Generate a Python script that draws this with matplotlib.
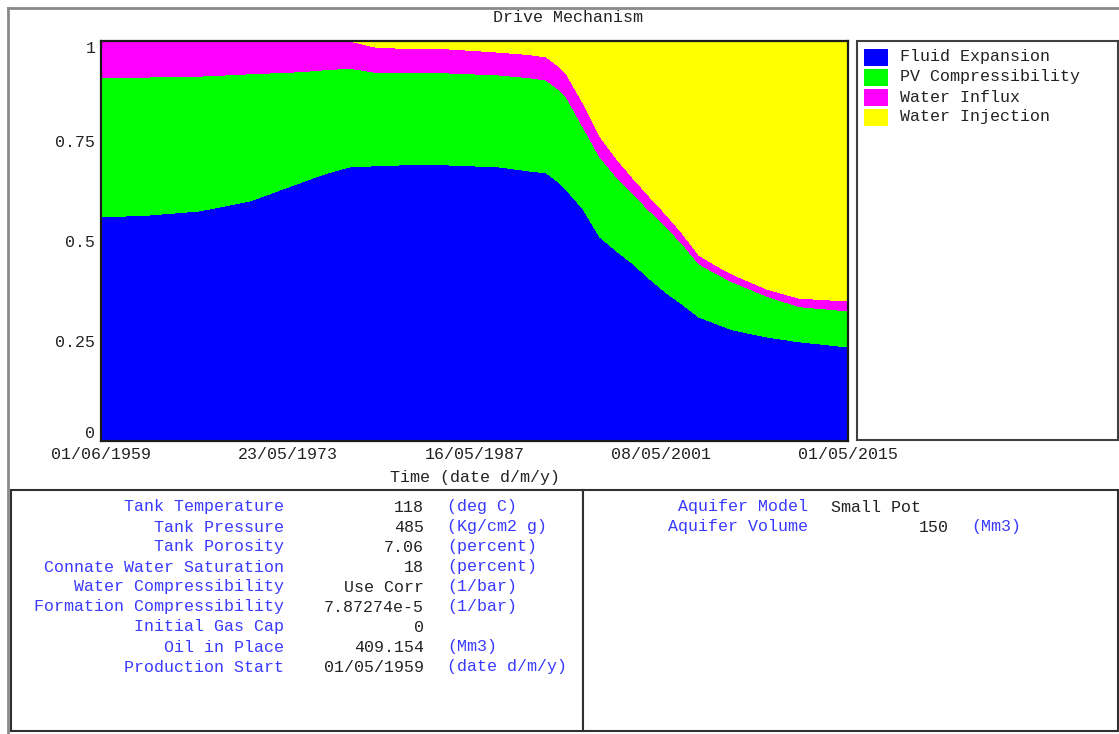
import matplotlib
matplotlib.use("Agg")
import matplotlib.pyplot as plt
from matplotlib.patches import Rectangle
from matplotlib.lines import Line2D
import pandas as pd

W, H = 1119, 734
FONT = "Liberation Mono"
BLUE_TXT = "#3a3aff"

# ---- drive mechanism fractions over time ----
dates = ["1959-06-01", "1963-02-01", "1966-10-01", "1970-08-01", "1974-04-01",
         "1976-03-01", "1978-01-01", "1979-12-01", "1981-10-01", "1985-07-01",
         "1989-04-01", "1991-07-01", "1992-10-01", "1993-10-01", "1994-04-01",
         "1995-07-01", "1996-10-01", "1998-01-01", "1999-03-01", "2000-07-01",
         "2001-10-01", "2003-01-01", "2004-03-01", "2005-07-01", "2006-09-01",
         "2009-04-01", "2011-09-01", "2015-05-01"]
fluid_expansion = [0.560, 0.565, 0.575, 0.600, 0.645, 0.668, 0.685, 0.688, 0.690, 0.690,
                   0.685, 0.675, 0.670, 0.645, 0.628, 0.580, 0.510, 0.475, 0.445, 0.405,
                   0.370, 0.340, 0.310, 0.293, 0.278, 0.260, 0.248, 0.235]
pv_compressibility = [0.348, 0.345, 0.337, 0.318, 0.278, 0.260, 0.247, 0.234, 0.230, 0.230,
                      0.230, 0.233, 0.232, 0.232, 0.232, 0.205, 0.200, 0.185, 0.175, 0.170,
                      0.165, 0.150, 0.133, 0.125, 0.120, 0.102, 0.088, 0.090]
water_influx = [0.092, 0.090, 0.088, 0.082, 0.077, 0.072, 0.068, 0.063, 0.062, 0.060,
                0.057, 0.058, 0.058, 0.058, 0.058, 0.060, 0.052, 0.046, 0.040, 0.035,
                0.030, 0.026, 0.022, 0.020, 0.019, 0.018, 0.021, 0.025]
water_injection = [0.000, 0.000, 0.000, 0.000, 0.000, 0.000, 0.000, 0.015, 0.018, 0.020,
                   0.028, 0.034, 0.040, 0.065, 0.082, 0.155, 0.238, 0.294, 0.340, 0.390,
                   0.435, 0.484, 0.535, 0.562, 0.583, 0.620, 0.643, 0.650]

series_names = ["Fluid Expansion", "PV Compressibility", "Water Influx", "Water Injection"]
series_colors = ["#0000ff", "#00ff00", "#ff00ff", "#ffff00"]

x_tick_labels = ["01/06/1959", "23/05/1973", "16/05/1987", "08/05/2001", "01/05/2015"]
y_ticks = [0, 0.25, 0.5, 0.75, 1]
y_tick_labels = ["0", "0.25", "0.5", "0.75", "1"]

# ---- tank / aquifer parameters ----
tank_labels = ["Tank Temperature", "Tank Pressure", "Tank Porosity",
               "Connate Water Saturation", "Water Compressibility",
               "Formation Compressibility", "Initial Gas Cap", "Oil in Place",
               "Production Start"]
tank_values = ["118", "485", "7.06", "18", "Use Corr", "7.87274e-5", "0",
               "409.154", "01/05/1959"]
tank_units = ["(deg C)", "(Kg/cm2 g)", "(percent)", "(percent)", "(1/bar)",
              "(1/bar)", "", "(Mm3)", "(date d/m/y)"]
aquifer_labels = ["Aquifer Model", "Aquifer Volume"]
aquifer_values = ["Small Pot", "150"]
aquifer_units = ["", "(Mm3)"]


def fx(px):
    return px / W


def fy(py):
    return 1 - py / H


fig = plt.figure(figsize=(W / 100, H / 100), dpi=100)
fig.patch.set_facecolor("white")

# main stacked area plot
ax = fig.add_axes([fx(101), fy(441), (848 - 101) / W, 400 / H])
t = pd.to_datetime(dates)
polys = ax.stackplot(t, fluid_expansion, pv_compressibility, water_influx, water_injection,
                     colors=series_colors, labels=series_names, linewidth=0)
for p in polys:
    p.set_antialiased(False)
ax.set_xlim(pd.Timestamp("1959-06-01"), pd.Timestamp("2015-05-01"))
ax.set_ylim(0, 1)
ax.set_xticks(pd.to_datetime(x_tick_labels, format="%d/%m/%Y"))
ax.set_xticklabels(x_tick_labels, family=FONT, fontsize=12, color="#222222")
ax.set_yticks(y_ticks)
ax.set_yticklabels(y_tick_labels, family=FONT, fontsize=12, color="#222222")
ax.tick_params(length=0, pad=4)
ylabels = ax.get_yticklabels()
ylabels[0].set_verticalalignment("bottom")
ylabels[-1].set_verticalalignment("top")
for s in ax.spines.values():
    s.set_color("#1a1a1a")
    s.set_linewidth(1.6)

# legend panel
lg_l, lg_t, lg_r, lg_b = 857, 41, 1118, 440
fig.add_artist(Rectangle((fx(lg_l), fy(lg_b)), (lg_r - lg_l) / W, (lg_b - lg_t) / H,
                         transform=fig.transFigure, facecolor="white",
                         edgecolor="#404040", linewidth=1.5))
for i, (name, col) in enumerate(zip(series_names, series_colors)):
    cy = 57 + 20 * i
    fig.add_artist(Rectangle((fx(864), fy(cy + 8.5)), 24 / W, 17 / H,
                             transform=fig.transFigure, facecolor=col,
                             edgecolor="none"))
    fig.text(fx(900), fy(cy), name, family=FONT, fontsize=12, color="#222222",
             ha="left", va="center")

# titles
fig.text(fx(568), fy(17), "Drive Mechanism", family=FONT, fontsize=12,
         ha="center", va="center", color="#222222")
fig.text(fx(474.5), fy(478), "Time (date d/m/y)", family=FONT, fontsize=12,
         ha="center", va="center", color="#222222")

# outer frame lines
fig.add_artist(Line2D([fx(8), fx(8)], [fy(8), fy(734)], transform=fig.transFigure,
                      color="#8a8a8a", linewidth=2))
fig.add_artist(Line2D([fx(8), fx(1119)], [fy(8), fy(8)], transform=fig.transFigure,
                      color="#8a8a8a", linewidth=2))

# parameter panels
for (l, r) in [(11, 583), (583, 1118)]:
    fig.add_artist(Rectangle((fx(l), fy(731)), (r - l) / W, (731 - 490) / H,
                             transform=fig.transFigure, facecolor="white",
                             edgecolor="#303030", linewidth=1.5))

for i, (lab, val, unit) in enumerate(zip(tank_labels, tank_values, tank_units)):
    y = fy(507 + 20 * i)
    fig.text(fx(284), y, lab, family=FONT, fontsize=12, color=BLUE_TXT,
             ha="right", va="center")
    fig.text(fx(424), y, val, family=FONT, fontsize=12, color="#222222",
             ha="right", va="center")
    if unit:
        fig.text(fx(447), y, unit, family=FONT, fontsize=12, color=BLUE_TXT,
                 ha="left", va="center")

aq_val_x = [("left", 831), ("right", 949)]
for i, (lab, val, unit) in enumerate(zip(aquifer_labels, aquifer_values, aquifer_units)):
    y = fy(507 + 20 * i)
    fig.text(fx(808), y, lab, family=FONT, fontsize=12, color=BLUE_TXT,
             ha="right", va="center")
    ha, xv = aq_val_x[i]
    fig.text(fx(xv), y, val, family=FONT, fontsize=12, color="#222222",
             ha=ha, va="center")
    if unit:
        fig.text(fx(971), y, unit, family=FONT, fontsize=12, color=BLUE_TXT,
                 ha="left", va="center")

fig.savefig("out.png", dpi=100)
